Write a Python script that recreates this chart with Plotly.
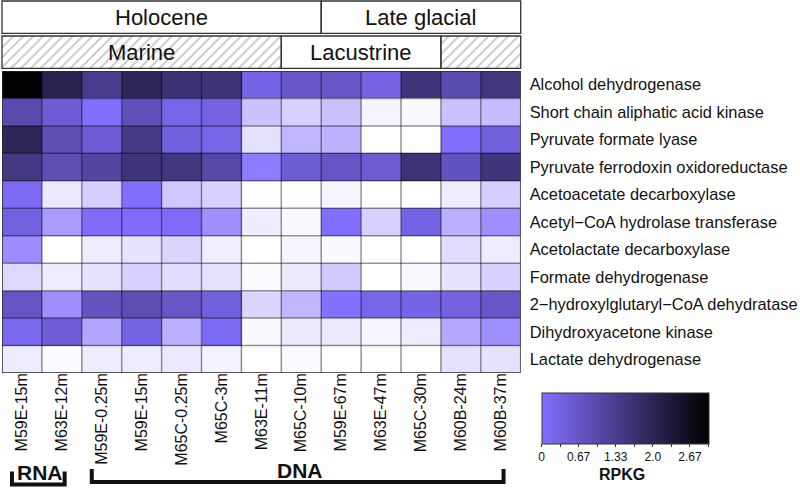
import plotly.graph_objects as go

# ---------------- data ----------------
samples = ["M59E-15m", "M63E-12m", "M59E-0.25m", "M59E-15m", "M65C-0.25m", "M65C-3m",
           "M63E-11m", "M65C-10m", "M59E-67m", "M63E-47m", "M65C-30m", "M60B-24m", "M60B-37m"]
genes = ["Alcohol dehydrogenase", "Short chain aliphatic acid kinase", "Pyruvate formate lyase",
         "Pyruvate ferrodoxin oxidoreductase", "Acetoacetate decarboxylase",
         "Acetyl\u2212CoA hydrolase transferase", "Acetolactate decarboxylase",
         "Formate dehydrogenase", "2\u2212hydroxylglutaryl\u2212CoA dehydratase",
         "Dihydroxyacetone kinase", "Lactate dehydrogenase"]

# colour level per cell (<0 : fades to white, 0..3 : RPKG scale purple -> black)
alcohol_dh      = [2.95, 2.06, 1.35, 1.96, 1.64, 1.59, 0.29, 0.65, 0.67, 0.32, 1.54, 0.93, 1.52]
short_chain_ak  = [0.95, 0.48, 0.02, 0.84, 0.27, 0.32, -1.71, -2.02, -1.71, -2.79, -2.85, -1.71, -1.60]
pyr_formate_ly  = [1.99, 0.90, 0.48, 1.40, 0.41, 0.27, -2.35, -1.48, -1.40, -3.00, -3.00, 0.02, 0.41]
pyr_ferredoxin  = [1.45, 0.88, 1.12, 1.56, 1.52, 1.05, -0.27, 0.50, 0.69, 0.53, 1.60, 0.77, 1.54]
acetoacetate_dc = [0.13, -2.54, -1.98, 0.02, -1.85, -2.05, -2.98, -2.98, -2.80, -3.00, -3.00, -2.60, -1.98]
acetyl_coa_ht   = [0.36, -0.94, 0.08, 0.08, 0.08, -0.65, -2.60, -2.88, 0.02, -2.05, 0.30, -1.35, -0.65]
acetolactate_dc = [-0.60, -3.00, -2.60, -2.40, -2.15, -2.65, -3.00, -2.80, -2.88, -3.00, -3.00, -2.30, -2.60]
formate_dh      = [-2.20, -2.60, -2.40, -2.05, -2.30, -2.35, -2.90, -2.55, -1.90, -3.00, -2.88, -2.40, -2.05]
hydroxyglut_dh  = [0.69, -0.65, 0.74, 0.90, 0.67, 0.41, -2.15, -1.48, -0.05, 0.25, 0.30, 0.34, 0.67]
dihydroxyac_k   = [0.20, 0.46, -1.15, 0.30, -1.35, 0.13, -2.88, -2.54, -2.55, -2.80, -2.60, -1.20, -0.68]
lactate_dh      = [-2.60, -2.90, -2.60, -2.60, -2.54, -2.72, -3.00, -2.90, -3.00, -3.00, -3.00, -2.35, -2.38]

# column groups (first column, last column)
epoch_names = ["Holocene", "Late glacial"]
epoch_cols = [(0, 7), (8, 12)]
env_names = ["Marine", "Lacustrine", ""]
env_cols = [(0, 6), (7, 10), (11, 12)]
env_hatched = [True, False, True]
mol_names = ["RNA", "DNA"]
mol_cols = [(0, 1), (2, 12)]

cbar_ticks = [0, 1/3, 2/3, 1, 4/3, 5/3, 2, 7/3, 8/3, 3]
cbar_text = ["0", "", "0.67", "", "1.33", "", "2.0", "", "2.67", ""]

# ---------------- layout constants ----------------
W, H = 800, 488
X0, X1 = 2.0, 520.7        # heatmap left/right px
Y0, Y1 = 71.0, 373.0       # heatmap top/bottom px
CW = (X1 - X0) / len(samples)
FONT = "Liberation Sans, Arial, Helvetica, sans-serif"
PURPLE = "#836fff"

z = [alcohol_dh, short_chain_ak, pyr_formate_ly, pyr_ferredoxin, acetoacetate_dc,
     acetyl_coa_ht, acetolactate_dc, formate_dh, hydroxyglut_dh, dihydroxyac_k, lactate_dh]

fig = go.Figure()
fig.add_trace(go.Heatmap(
    z=z, x=list(range(len(samples))), y=list(range(len(genes))),
    zmin=-3, zmax=3,
    colorscale=[[0, "#ffffff"], [0.5, PURPLE], [1, "#000000"]],
    showscale=False, xaxis="x", yaxis="y", hoverinfo="skip"))

# overlay axes: x in column units over the whole figure, y in pixels
cx_min = (0 - X0) / CW - 0.5
cx_max = (W - X0) / CW - 0.5

def hatch_box(c0, c1, ya, yb):
    xa, xb = c0 - 0.5, c1 + 0.5
    return go.Scatter(x=[xa, xb, xb, xa, xa], y=[ya, ya, yb, yb, ya], mode="lines",
                      line=dict(width=0, color="rgba(0,0,0,0)"), fill="toself",
                      fillcolor="white",
                      fillpattern=dict(shape="/", size=7, solidity=0.2,
                                       fgcolor="#6e6e6e", bgcolor="white"),
                      xaxis="x2", yaxis="y2", hoverinfo="skip", showlegend=False)

for (c0, c1), hatched in zip(env_cols, env_hatched):
    if hatched:
        fig.add_trace(hatch_box(c0, c1, 36, 68.3))

# dummy trace carrying the colour bar
fig.add_trace(go.Scatter(
    x=[-50], y=[-50], mode="markers", xaxis="x2", yaxis="y2", hoverinfo="skip",
    showlegend=False,
    marker=dict(size=1, color=[0], cmin=0, cmax=3,
                colorscale=[[0, PURPLE], [1, "#000000"]], showscale=True,
                colorbar=dict(orientation="h", x=(541.7 + 708.3) / 2 / W, xanchor="center",
                              y=1 - 393 / H, yanchor="top", len=166.6, lenmode="pixels",
                              thickness=51, thicknessmode="pixels", xpad=0, ypad=0,
                              outlinewidth=1, outlinecolor="#333",
                              tickvals=cbar_ticks, ticktext=cbar_text, ticks="outside",
                              ticklen=3, tickwidth=1, tickcolor="#333",
                              tickfont=dict(family=FONT, size=12, color="#111")))))

shapes = []
# grid lines between cells
for k in range(len(samples) - 1):
    shapes.append(dict(type="line", xref="x", yref="y", x0=k + 0.5, x1=k + 0.5,
                       y0=-0.5, y1=len(genes) - 0.5,
                       line=dict(color="rgba(0,0,0,0.42)", width=1.5)))
for k in range(len(genes) - 1):
    shapes.append(dict(type="line", xref="x", yref="y", y0=k + 0.5, y1=k + 0.5,
                       x0=-0.5, x1=len(samples) - 0.5,
                       line=dict(color="rgba(0,0,0,0.42)", width=1.5)))
shapes.append(dict(type="rect", xref="x", yref="y", x0=-0.5, x1=len(samples) - 0.5,
                   y0=-0.5, y1=len(genes) - 0.5, line=dict(color="#2a2a2a", width=1.5)))

annotations = []
# epoch boxes
for name, (c0, c1) in zip(epoch_names, epoch_cols):
    shapes.append(dict(type="rect", xref="x2", yref="y2", x0=c0 - 0.5, x1=c1 + 0.5,
                       y0=1, y1=33.3, line=dict(color="#333", width=1.3)))
    annotations.append(dict(xref="x2", yref="y2", x=(c0 + c1) / 2, y=17, text=name,
                            xanchor="center", yanchor="middle",
                            showarrow=False, font=dict(family=FONT, size=22, color="#111")))
# environment boxes
for name, (c0, c1) in zip(env_names, env_cols):
    shapes.append(dict(type="rect", xref="x2", yref="y2", x0=c0 - 0.5, x1=c1 + 0.5,
                       y0=36, y1=68.3, line=dict(color="#333", width=1.3)))
    if name:
        annotations.append(dict(xref="x2", yref="y2", x=(c0 + c1) / 2, y=52.5, text=name,
                                xanchor="center", yanchor="middle",
                                showarrow=False, font=dict(family=FONT, size=22, color="#111")))
# RNA / DNA brackets
for name, (c0, c1), yb in zip(mol_names, mol_cols, [484.5, 482.0]):
    xa, xb = c0 - 0.25, c1 + 0.07
    shapes.append(dict(type="path", xref="x2", yref="y2",
                       path=f"M {xa} {yb - 13} L {xa} {yb} L {xb} {yb} L {xb} {yb - 13}",
                       line=dict(color="#111", width=4)))
    annotations.append(dict(xref="x2", yref="y2", x=(xa + xb) / 2 + 0.05, y=yb - 12,
                            xanchor="center", yanchor="middle",
                            text=f"<b>{name}</b>", showarrow=False,
                            font=dict(family=FONT, size=21, color="#111")))
# colour bar title
annotations.append(dict(xref="paper", yref="paper", x=621.5 / W, y=1 - 474 / H,
                        xanchor="center", yanchor="middle",
                        text="<b>RPKG</b>", showarrow=False,
                        font=dict(family=FONT, size=16, color="#111")))

fig.update_layout(
    width=W, height=H, margin=dict(l=0, r=0, t=0, b=0, pad=0),
    paper_bgcolor="white", plot_bgcolor="rgba(0,0,0,0)", showlegend=False,
    font=dict(family=FONT, color="#111"),
    xaxis=dict(domain=[X0 / W, X1 / W], range=[-0.5, len(samples) - 0.5],
               tickvals=list(range(len(samples))), ticktext=samples, tickangle=-90,
               ticks="", showgrid=False, zeroline=False, showline=False,
               ticklabelstandoff=-4,
               tickfont=dict(family=FONT, size=16, color="#111"), automargin=False,
               anchor="y", fixedrange=True),
    yaxis=dict(domain=[1 - Y1 / H, 1 - Y0 / H], range=[len(genes) - 0.5, -0.5],
               tickvals=list(range(len(genes))), ticktext=genes, side="right",
               ticks="", showgrid=False, zeroline=False, showline=False,
               ticklabelstandoff=8,
               tickfont=dict(family=FONT, size=16.4, color="#111"), automargin=False,
               anchor="x", fixedrange=True),
    xaxis2=dict(domain=[0, 1], range=[cx_min, cx_max], anchor="y2", visible=False,
                fixedrange=True),
    yaxis2=dict(domain=[0, 1], range=[H, 0], anchor="x2", visible=False, fixedrange=True),
    shapes=shapes, annotations=annotations,
)

fig.write_html("out.html", config={"displayModeBar": False},
               post_script="document.body.style.margin='0px';")
